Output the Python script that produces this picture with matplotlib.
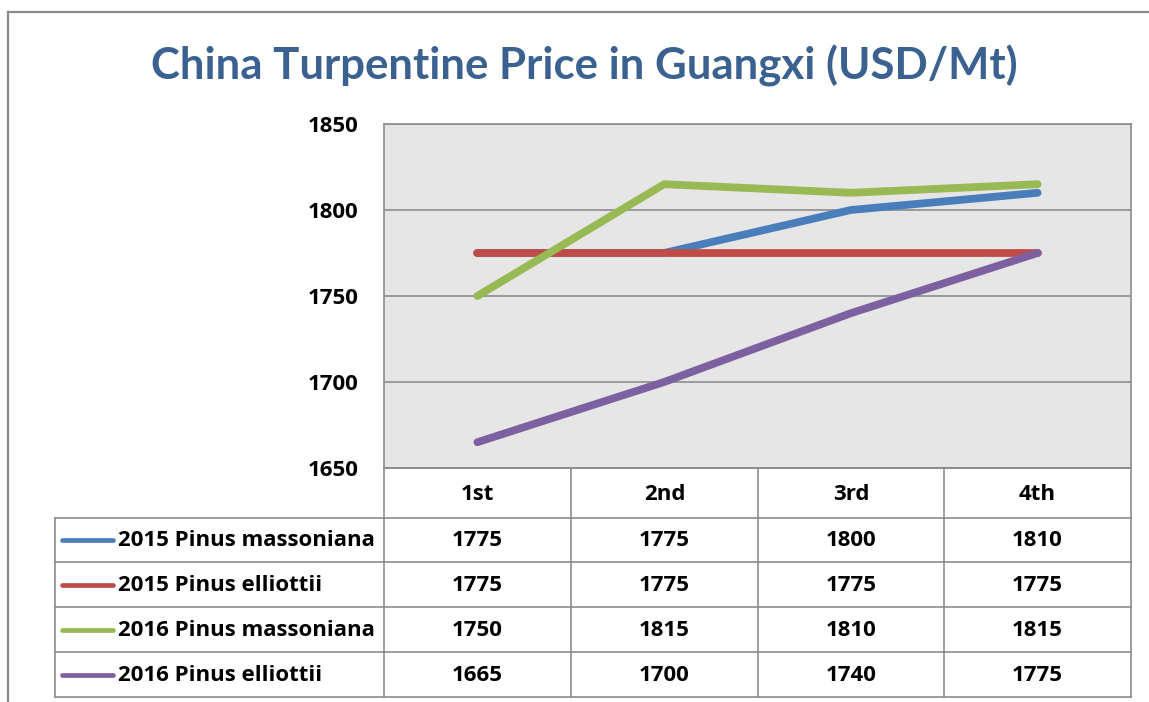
import matplotlib.pyplot as plt
from matplotlib.lines import Line2D

# data
quarters = ["1st", "2nd", "3rd", "4th"]
series_names = ["2015 Pinus massoniana", "2015 Pinus elliottii",
                "2016 Pinus massoniana", "2016 Pinus elliottii"]
mas_2015 = [1775, 1775, 1800, 1810]
ell_2015 = [1775, 1775, 1775, 1775]
mas_2016 = [1750, 1815, 1810, 1815]
ell_2016 = [1665, 1700, 1740, 1775]
yticks = [1650, 1700, 1750, 1800, 1850]

all_series = [mas_2015, ell_2015, mas_2016, ell_2016]
colors = ["#4A7EBB", "#BE4B48", "#98B954", "#7D60A0"]

W, H = 1149, 702
FS = 16
BODY = ['Open Sans', 'DejaVu Sans']
plt.rcParams['font.family'] = BODY
fig = plt.figure(figsize=(W / 100, H / 100), dpi=100)

def fx(px):
    return px / W

def fy(py):
    return 1 - py / H

# outer frame
fig.add_artist(Line2D([fx(8), 1.0], [fy(12), fy(12)], color="#8A8A8A", lw=1.6))
fig.add_artist(Line2D([fx(8), fx(8)], [fy(12), 0.0], color="#8A8A8A", lw=1.6))

fig.text(fx(584), fy(66), "China Turpentine Price in Guangxi (USD/Mt)",
         ha="center", va="center", fontsize=31.5, fontweight="bold",
         color="#3A6190", family=['Lato', 'DejaVu Sans'])

# plot area
x0, x1, ytop, ybot = 384, 1131, 124, 468
ax = fig.add_axes([fx(x0), fy(ybot), fx(x1) - fx(x0), fy(ytop) - fy(ybot)])
ax.set_facecolor("#E6E6E6")
ax.set_xlim(-0.5, len(quarters) - 0.5)
ax.set_ylim(yticks[0], yticks[-1])
ax.set_yticks(yticks)
ax.set_xticks([])
ax.grid(axis="y", color="#8C8C8C", lw=1.2)
ax.set_axisbelow(True)
for s in ax.spines.values():
    s.set_color("#8C8C8C")
    s.set_linewidth(1.2)
ax.tick_params(axis="y", length=0, pad=18.5, labelsize=FS)
for lab in ax.get_yticklabels():
    lab.set_fontweight("bold")

xs = list(range(len(quarters)))
for vals, c in zip(all_series, colors):
    ax.plot(xs, vals, color=c, lw=5.6, solid_capstyle="round", solid_joinstyle="round")

# data table under the chart
tab_left = 55
col_edges = [384, 571, 758, 944, 1131]
row_edges = [468, 518, 562, 607, 652, 697]
gc = "#8C8C8C"

def hline(y, xa, xb):
    fig.add_artist(Line2D([fx(xa), fx(xb)], [fy(y), fy(y)], color=gc, lw=1.2))

def vline(x, ya, yb):
    fig.add_artist(Line2D([fx(x), fx(x)], [fy(ya), fy(yb)], color=gc, lw=1.2))

hline(row_edges[0], col_edges[0], col_edges[-1])
for y in row_edges[1:]:
    hline(y, tab_left, col_edges[-1])
vline(tab_left, row_edges[1], row_edges[-1])
for x in col_edges:
    vline(x, row_edges[0], row_edges[-1])

for j, q in enumerate(quarters):
    cx = (col_edges[j] + col_edges[j + 1]) / 2
    fig.text(fx(cx), fy((row_edges[0] + row_edges[1]) / 2 + 1), q, ha="center",
             va="center", fontsize=FS, fontweight="bold")

for i, (name, vals, c) in enumerate(zip(series_names, all_series, colors)):
    cy = (row_edges[i + 1] + row_edges[i + 2]) / 2
    fig.add_artist(Line2D([fx(62), fx(113)], [fy(cy), fy(cy)], color=c, lw=3.4,
                          solid_capstyle="round"))
    fig.text(fx(118), fy(cy + 1), name, ha="left", va="center", fontsize=FS,
             fontweight="bold")
    for j, v in enumerate(vals):
        cx = (col_edges[j] + col_edges[j + 1]) / 2
        fig.text(fx(cx), fy(cy + 1), str(v), ha="center", va="center", fontsize=FS,
                 fontweight="bold")

fig.savefig("out.png", dpi=100)
